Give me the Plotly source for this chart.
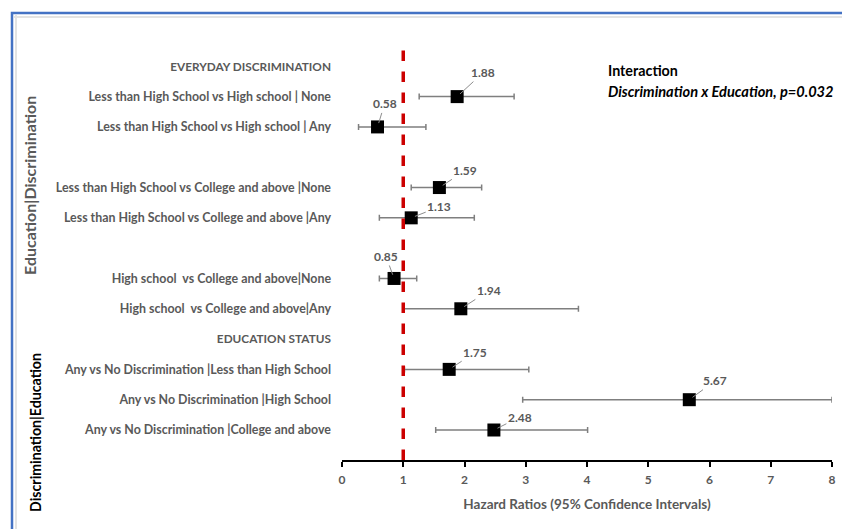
import plotly.graph_objects as go

# ---- data ----
rows = [
    "EVERYDAY DISCRIMINATION",
    "Less than High School vs High school | None",
    "Less than High School vs High school | Any",
    " ",
    "Less than High School vs College and above |None",
    "Less than High School vs College and above |Any",
    "  ",
    "High school  vs College and above|None",
    "High school  vs College and above|Any",
    "EDUCATION STATUS",
    "Any vs No Discrimination |Less than High School",
    "Any vs No Discrimination |High School",
    "Any vs No Discrimination |College and above",
]
headers = ["EVERYDAY DISCRIMINATION", "EDUCATION STATUS"]

labels = [
    "Less than High School vs High school | None",
    "Less than High School vs High school | Any",
    "Less than High School vs College and above |None",
    "Less than High School vs College and above |Any",
    "High school  vs College and above|None",
    "High school  vs College and above|Any",
    "Any vs No Discrimination |Less than High School",
    "Any vs No Discrimination |High School",
    "Any vs No Discrimination |College and above",
]
hr = [1.88, 0.58, 1.59, 1.13, 0.85, 1.94, 1.75, 5.67, 2.48]
ci_low = [1.26, 0.27, 1.13, 0.61, 0.61, 1.00, 1.02, 2.95, 1.53]
ci_high = [2.81, 1.37, 2.28, 2.16, 1.22, 3.86, 3.05, 8.00, 4.01]
# label offsets (pixels) for the data-value callouts
lab_dx = [26, 7, 26, 28, -8, 28, 26, 26, 26]
lab_dy = [-24, -23, -17, -11, -22, -18, -17, -19, -13]

x_ticks = [0, 1, 2, 3, 4, 5, 6, 7, 8]

FONT = "Lato"
GREY = "#595959"

# figure fills the page (body margin removed in post_script)
W, H = 842, 529
L, R, T, B = 342, 10, 36, 69
PW, PH = W - L - R, H - T - B


def px(xpage):
    return (xpage - L) / PW


def py(ypage):
    return (H - B - ypage) / PH


fig = go.Figure()
fig.add_trace(go.Scatter(
    x=hr, y=labels, mode="markers",
    marker=dict(symbol="square", size=13, color="black"),
    error_x=dict(type="data", symmetric=False,
                 array=[h - v for h, v in zip(ci_high, hr)],
                 arrayminus=[v - l for v, l in zip(hr, ci_low)],
                 color="#7f7f7f", thickness=1.5, width=3),
    showlegend=False, cliponaxis=False, hoverinfo="skip",
))

# value callouts
for v, lab, dx, dy in zip(hr, labels, lab_dx, lab_dy):
    fig.add_annotation(x=v, y=lab, text=f"<b>{v:.2f}</b>", showarrow=True,
                       ax=dx, ay=dy, arrowhead=0, arrowwidth=1, arrowcolor="#8c8c8c",
                       standoff=4, font=dict(family=FONT, size=12, color=GREY))

# reference line at HR = 1
fig.add_shape(type="line", x0=1, x1=1, xref="x", yref="y", y0=12.99, y1=-0.6,
              line=dict(color="#cc0000", width=3.5, dash="dash"), layer="above")

ticktext = [f"<b><span style='font-size:11.8px'>{r}</span></b>" if r in headers
            else f"<b>{r}</b>" for r in rows]

fig.update_layout(
    width=W, height=H,
    margin=dict(l=L, r=R, t=T, b=B, autoexpand=False),
    paper_bgcolor="white", plot_bgcolor="white",
    font=dict(family=FONT, size=12, color=GREY),
    xaxis=dict(range=[0, 8], tickvals=x_ticks, ticktext=[f"<b>{t}</b>" for t in x_ticks],
               showgrid=False, zeroline=False,
               showline=True, linecolor="black", linewidth=2,
               ticks="outside", ticklen=5, tickcolor="black", tickwidth=1.5,
               ticklabelstandoff=3, automargin=False,
               tickfont=dict(family=FONT, size=12, color=GREY),
               title=dict(text="<b>Hazard Ratios (95% Confidence Intervals)</b>",
                          font=dict(family=FONT, size=13.5, color=GREY), standoff=13)),
    yaxis=dict(type="category", categoryorder="array", categoryarray=rows,
               tickvals=rows, ticktext=ticktext, automargin=False,
               range=[12.99, -1.0], showgrid=False, zeroline=False, showline=False,
               ticks="", ticklabelstandoff=10,
               tickfont=dict(family=FONT, size=12.4, color=GREY)),
)

# group titles
fig.add_annotation(xref="paper", yref="paper", x=px(29), y=py(186), textangle=-90,
                   xanchor="center", yanchor="middle",
                   text="<b>Education|Discrimination</b>", showarrow=False,
                   font=dict(family=FONT, size=16, color=GREY))
fig.add_annotation(xref="paper", yref="paper", x=px(35), y=py(433), textangle=-90,
                   xanchor="center", yanchor="middle",
                   text="<b>Discrimination|Education</b>", showarrow=False,
                   font=dict(family=FONT, size=14.2, color="black"))

# interaction note
fig.add_annotation(xref="paper", yref="paper", x=px(606), y=py(70), xanchor="left",
                   yanchor="middle", text="<b>Interaction</b>", showarrow=False,
                   font=dict(family=FONT, size=14.3, color="black"))
fig.add_annotation(xref="paper", yref="paper", x=px(606), y=py(91), xanchor="left",
                   yanchor="middle",
                   text="<b><i>Discrimination x Education, p=0.032</i></b>", showarrow=False,
                   font=dict(family=FONT, size=14.6, color="black"))

# outer frame (blue border, spreadsheet-style)
fig.add_shape(type="rect", xref="paper", yref="paper",
              x0=px(12), x1=px(860), y0=py(560), y1=py(13),
              line=dict(color="#4472C4", width=2.5), layer="below")
fig.add_shape(type="line", xref="paper", yref="paper",
              x0=px(14), x1=px(850), y0=py(17), y1=py(17),
              line=dict(color="#e3e3e3", width=2), layer="below")
fig.add_shape(type="line", xref="paper", yref="paper",
              x0=px(16), x1=px(16), y0=py(560), y1=py(15),
              line=dict(color="#e3e3e3", width=2), layer="below")

fig.write_html("out.html",
               config={"displayModeBar": False},
               post_script="document.body.style.margin='0px';"
                           "document.body.style.overflow='hidden';")
